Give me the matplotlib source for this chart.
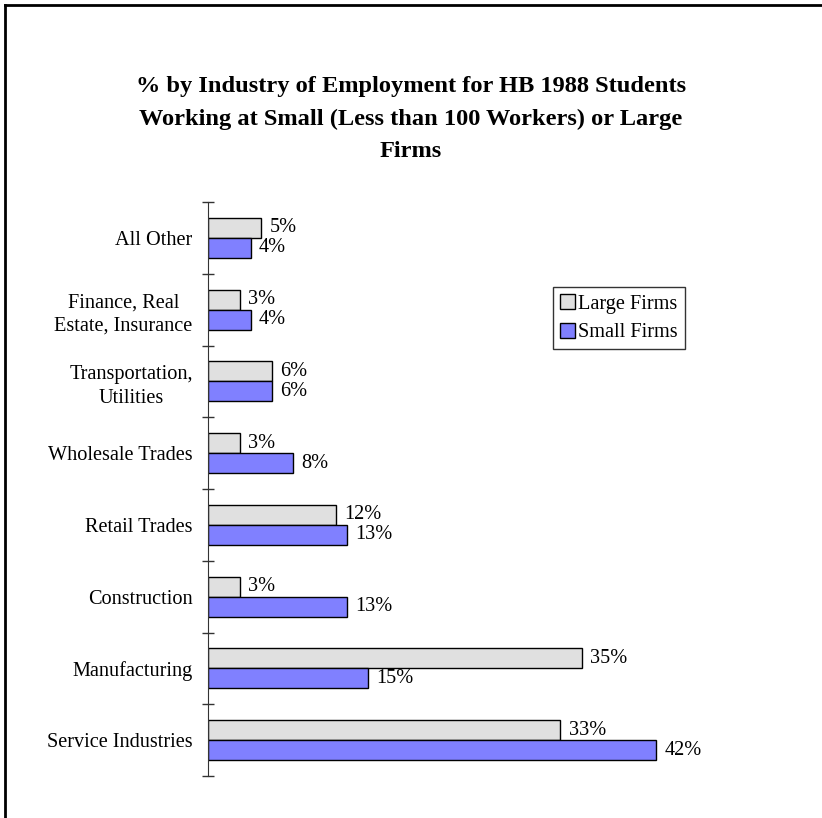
import matplotlib
matplotlib.use("Agg")
import matplotlib.pyplot as plt
from matplotlib.lines import Line2D
import numpy as np

plt.rcParams['font.family'] = ['Liberation Serif', 'DejaVu Serif']

# industries, listed bottom to top
industries = ["Service Industries", "Manufacturing", "Construction", "Retail Trades",
              "Wholesale Trades", "Transportation,\nUtilities",
              "Finance, Real\nEstate, Insurance", "All Other"]
large_firms = [33, 35, 3, 12, 3, 6, 3, 5]
small_firms = [42, 15, 13, 13, 8, 6, 4, 4]

title = ("% by Industry of Employment for HB 1988 Students\n"
         "Working at Small (Less than 100 Workers) or Large\nFirms")

fs = 14.6

fig = plt.figure(figsize=(8.22, 8.18), dpi=100)
ax = fig.add_axes([208 / 822, 42 / 818, 587 / 822, 574 / 818])

y = np.arange(len(industries))
h = 0.278
bl = ax.barh(y + h / 2, large_firms, height=h, color="#e0e0e0",
             edgecolor="black", linewidth=1, label="Large Firms")
bs = ax.barh(y - h / 2, small_firms, height=h, color="#8080ff",
             edgecolor="black", linewidth=1, label="Small Firms")

for bars, vals in ((bl, large_firms), (bs, small_firms)):
    for b, v in zip(bars, vals):
        ax.annotate(f"{v}%", (b.get_width(), b.get_y() + b.get_height() / 2),
                    xytext=(6, 0), textcoords="offset points",
                    va="center", ha="left", fontsize=fs)

ax.set_xlim(0, 55)
ax.set_ylim(-0.5, len(industries) - 0.5)
for s in ("top", "right", "bottom"):
    ax.spines[s].set_visible(False)
ax.spines["left"].set_color("#333333")
ax.set_xticks([])
ax.set_yticks(y)
ax.set_yticklabels(industries, fontsize=fs, multialignment="center",
                   linespacing=1.35)
ax.tick_params(axis="y", length=0, pad=11)
ax.set_yticks(np.arange(len(industries) + 1) - 0.5, minor=True)
ax.tick_params(axis="y", which="minor", length=9, direction="inout",
               width=1, color="#333333")

fig.text(0.5, 1 - 119 / 818, title, ha="center", va="center", fontsize=17.6,
         fontweight="bold", linespacing=1.72)

leg = fig.legend(handles=[bl, bs], loc="upper left",
                 bbox_to_anchor=(553 / 822, 1 - 287 / 818), fontsize=fs,
                 frameon=True, fancybox=False, edgecolor="black",
                 handlelength=0.75, handleheight=0.75, handletextpad=0.15,
                 borderpad=0.35, labelspacing=0.45, borderaxespad=0)
leg.get_frame().set_linewidth(1)

# frame lines along top and left of the figure
fig.add_artist(Line2D([4.5 / 822, 4.5 / 822], [0, 1 - 4.5 / 818],
                      color="black", linewidth=2, transform=fig.transFigure))
fig.add_artist(Line2D([4.5 / 822, 1], [1 - 4.5 / 818, 1 - 4.5 / 818],
                      color="black", linewidth=2, transform=fig.transFigure))

fig.savefig("out.png", dpi=100)
